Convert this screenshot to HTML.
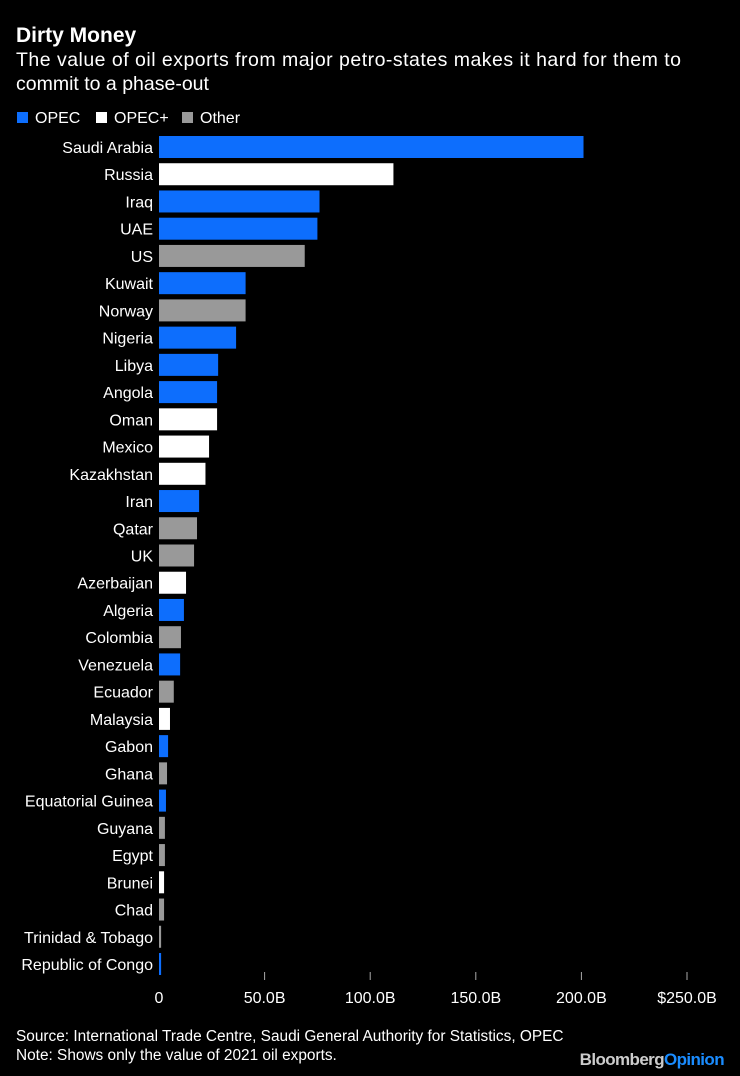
<!DOCTYPE html>
<html><head><meta charset="utf-8"><style>
body{margin:0;background:#000;width:740px;height:1076px;overflow:hidden;font-family:"Liberation Sans",sans-serif;color:#fff}
svg{display:block}
</style></head><body>
<svg width="740" height="1076" id="c">
<text x="16" y="42" font-size="21" font-weight="bold" fill="#fff">Dirty Money</text>
<text x="16" y="66" font-size="19.5" fill="#fff" textLength="665">The value of oil exports from major petro-states makes it hard for them to</text>
<text x="16" y="90" font-size="19.5" fill="#fff">commit to a phase-out</text>
<g>
<rect x="17" y="112" width="11" height="11" fill="#0d6efd"/>
<text x="35" y="123" font-size="16" fill="#fff">OPEC</text>
<rect x="96" y="112" width="11" height="11" fill="#fff"/>
<text x="114" y="123" font-size="16" fill="#fff">OPEC+</text>
<rect x="182" y="112" width="11" height="11" fill="#999"/>
<text x="200" y="123" font-size="16" fill="#fff">Other</text>
</g>
<g id="bars"></g>
<g id="axis"></g>
<text x="16" y="1041" font-size="15.4" fill="#fff">Source: International Trade Centre, Saudi General Authority for Statistics, OPEC</text>
<text x="16" y="1060" font-size="15.4" fill="#fff">Note: Shows only the value of 2021 oil exports.</text>
<text x="724" y="1065" font-size="17" font-weight="bold" text-anchor="end" letter-spacing="-0.6"><tspan fill="#ccc">Bloomberg</tspan><tspan fill="#1a8cff">Opinion</tspan></text>
</svg>
<script>
const categories=["Saudi Arabia","Russia","Iraq","UAE","US","Kuwait","Norway","Nigeria","Libya","Angola","Oman","Mexico","Kazakhstan","Iran","Qatar","UK","Azerbaijan","Algeria","Colombia","Venezuela","Ecuador","Malaysia","Gabon","Ghana","Equatorial Guinea","Guyana","Egypt","Brunei","Chad","Trinidad & Tobago","Republic of Congo"];
const values=[201,111,76,75,69,41,41,36.5,28,27.5,27.5,23.7,22,19,18,16.6,12.8,11.8,10.4,10,7,5.2,4.3,3.8,3.3,2.8,2.8,2.4,2.4,1,1];
const groups=["OPEC","OPEC+","OPEC","OPEC","Other","OPEC","Other","OPEC","OPEC","OPEC","OPEC+","OPEC+","OPEC+","OPEC","Other","Other","OPEC+","OPEC","Other","OPEC","Other","OPEC+","OPEC","Other","OPEC","Other","Other","OPEC+","Other","Other","OPEC"];
const ticks=[0,50,100,150,200,250];
const tickLabels=["0","50.0B","100.0B","150.0B","200.0B","$250.0B"];
const NS="http://www.w3.org/2000/svg";
const x=v=>159+v*(687-159)/250;
const y=i=>147+i*(964-147)/30;
const col={"OPEC":"#0d6efd","OPEC+":"#ffffff","Other":"#999999"};
const bars=document.getElementById('bars'),axis=document.getElementById('axis');
categories.forEach((c,i)=>{
 const r=document.createElementNS(NS,'rect');
 r.setAttribute('x',x(0));r.setAttribute('y',y(i)-11);
 r.setAttribute('width',Math.max(1.5,x(values[i])-x(0)));r.setAttribute('height',22);
 r.setAttribute('fill',col[groups[i]]);
 
 
 bars.appendChild(r);
 const t=document.createElementNS(NS,'text');
 t.setAttribute('x',153);t.setAttribute('y',y(i)+6);t.setAttribute('text-anchor','end');
 t.setAttribute('font-size','16');t.setAttribute('fill','#fff');t.textContent=c;
 
 
 bars.appendChild(t);
});
ticks.forEach((v,i)=>{
 if(i>0){const l=document.createElementNS(NS,'line');
 l.setAttribute('x1',x(v));l.setAttribute('x2',x(v));l.setAttribute('y1',972);l.setAttribute('y2',980);
 l.setAttribute('stroke','#aaa');
 
 
 axis.appendChild(l);}
 const t=document.createElementNS(NS,'text');
 t.setAttribute('x',x(v));t.setAttribute('y',1003);t.setAttribute('text-anchor','middle');
 t.setAttribute('font-size','16');t.setAttribute('fill','#fff');t.textContent=tickLabels[i];
 
 
 axis.appendChild(t);
});
</script>
</body></html>
